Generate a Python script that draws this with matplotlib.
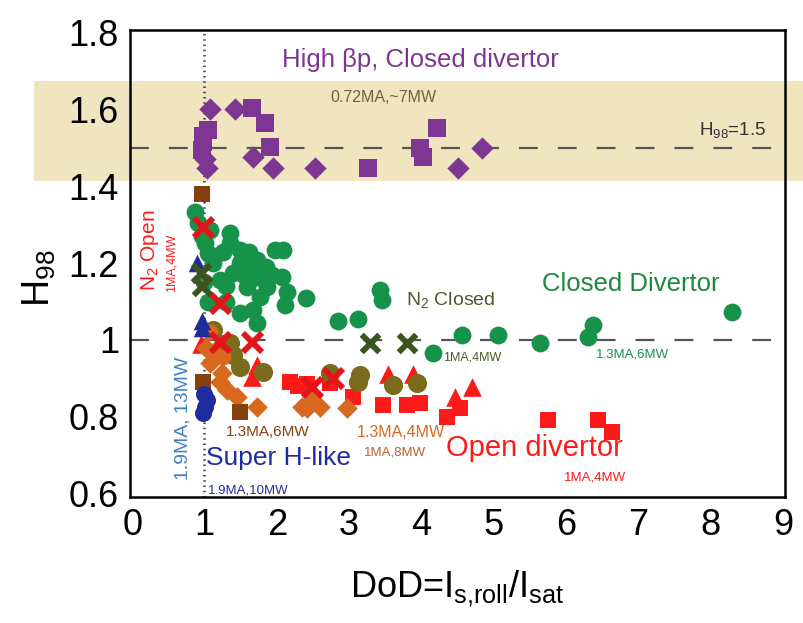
import matplotlib
matplotlib.use("Agg")
import matplotlib.pyplot as plt
from matplotlib.patches import Rectangle
from matplotlib.transforms import blended_transform_factory

plt.rcParams['font.family'] = ['Liberation Sans Narrow', 'Liberation Sans', 'DejaVu Sans']
plt.rcParams['mathtext.default'] = 'regular'

# ---- data: DoD (x) vs H98 (y) ----
# High beta_p, closed divertor (0.72MA, ~7MW)
hbp_sq_x = [1.66, 1.84, 1.05, 0.98, 0.98, 0.97, 1.91, 3.26, 4.22, 3.98, 4.02]
hbp_sq_y = [1.605, 1.565, 1.547, 1.53, 1.515, 1.495, 1.503, 1.448, 1.552, 1.50, 1.477]
hbp_dm_x = [1.08, 1.42, 1.67, 1.04, 1.95, 2.53, 4.50, 4.84, 1.01]
hbp_dm_y = [1.60, 1.60, 1.477, 1.448, 1.448, 1.448, 1.448, 1.50, 1.47]

# Closed divertor (1MA,4MW / 1.3MA,6MW)
closed_x = [0.87, 0.91, 0.97, 1.08, 1.36, 1.36, 1.01, 1.05, 1.26, 1.49, 1.98, 1.73,
            1.12, 1.49, 1.94, 1.40, 1.73, 1.22, 1.59, 1.87, 1.77, 1.67, 1.73, 1.49,
            1.30, 2.09, 2.07, 2.14, 2.12, 2.40, 2.85, 3.13, 3.43, 3.46, 4.16, 4.56,
            5.06, 5.64, 6.38, 6.31, 8.30, 1.00, 1.05, 1.60, 1.62, 1.85, 1.30, 1.55]
closed_y = [1.333, 1.305, 1.27, 1.286, 1.279, 1.253, 1.253, 1.227, 1.229, 1.235, 1.235, 1.208,
            1.20, 1.20, 1.169, 1.174, 1.164, 1.156, 1.138, 1.138, 1.112, 1.078, 1.044, 1.07,
            1.10, 1.235, 1.165, 1.125, 1.09, 1.11, 1.05, 1.055, 1.13, 1.104, 0.966, 1.013,
            1.013, 0.992, 1.039, 1.008, 1.073, 1.15, 1.10, 1.19, 1.23, 1.19, 1.14, 1.17]

# N2 seeded, closed divertor
n2c_x = [3.29, 3.80, 0.95, 0.97]
n2c_y = [0.992, 0.992, 1.175, 1.14]

# N2 seeded, open divertor
n2o_x = [0.98, 1.22, 1.22, 1.66, 2.49, 2.78]
n2o_y = [1.294, 1.096, 0.995, 0.995, 0.878, 0.90]

# Open divertor (1MA,4MW)
open_tri_x = [3.54, 3.89, 4.70, 4.47, 1.73, 1.66, 0.95]
open_tri_y = [0.91, 0.91, 0.878, 0.852, 0.935, 0.904, 0.99]
open_sq_x = [2.19, 2.30, 2.42, 2.74, 3.06, 3.47, 3.80, 3.98, 4.36, 4.54, 5.75, 6.45, 6.64]
open_sq_y = [0.891, 0.88, 0.886, 0.888, 0.852, 0.831, 0.831, 0.836, 0.80, 0.823, 0.792, 0.792, 0.76]

# 1MA,8MW
olive_x = [2.74, 3.15, 3.13, 3.61, 3.94, 1.36, 1.49, 1.81, 1.40, 1.12, 1.25]
olive_y = [0.914, 0.909, 0.89, 0.883, 0.888, 0.992, 0.93, 0.917, 0.96, 1.026, 0.99]

# 1.3MA,4MW
orange_dm_x = [2.42, 2.60, 2.97, 2.49, 1.24, 1.22, 1.31, 1.45, 1.73, 2.35, 1.08, 1.12, 1.02]
orange_dm_y = [0.823, 0.825, 0.823, 0.84, 0.914, 0.89, 0.87, 0.852, 0.826, 0.826, 0.94, 0.966, 0.98]
orange_ci_x = [1.12, 1.26, 1.08]
orange_ci_y = [0.97, 0.955, 1.02]

# 1.3MA,6MW
brown_x = [0.97, 0.98, 1.49]
brown_y = [1.38, 0.89, 0.813]

# Super H-like (1.9MA, 10-13MW)
sh_tri_x = [0.97, 0.97, 0.90]
sh_tri_y = [1.05, 1.03, 1.20]
sh_ci_x = [1.01, 0.98, 1.03, 0.99]
sh_ci_y = [0.826, 0.81, 0.843, 0.86]

x_ticks = [0, 1, 2, 3, 4, 5, 6, 7, 8, 9]
y_ticks = [0.6, 0.8, 1.0, 1.2, 1.4, 1.6, 1.8]
y_tick_labels = ['0.6', '0.8', '1', '1.2', '1.4', '1.6', '1.8']

PURPLE = '#7d3793'
GREEN = '#17924a'
DKGREEN = '#3d5420'
RED = '#ff1a1a'
XRED = '#e3151a'
OLIVE = '#7a6c1c'
ORANGE = '#d9681f'
BROWN = '#86400f'
BLUE = '#1f2c9e'
BAND = '#f1e5c0'

fig = plt.figure(figsize=(8.04, 6.23), dpi=100)
ax = fig.add_axes([130 / 804, 126 / 623, 655 / 804, 467 / 623])
ax.set_xlim(-0.03, 9.03)
ax.set_ylim(0.591, 1.807)
ax.patch.set_visible(False)

# shaded H98 band spanning past the axes
band_tr = blended_transform_factory(fig.transFigure, ax.transData)
fig.add_artist(Rectangle((34 / 804, 1.415), 1 - 34 / 804, 1.675 - 1.415,
                         transform=band_tr, facecolor=BAND, edgecolor='none', zorder=-5))

# reference lines
ax.axhline(1.5, color='#555555', lw=1.6, dashes=(8.5, 9), zorder=1)
ax.axhline(1.0, color='#555555', lw=1.6, dashes=(8.5, 9), zorder=1)
ax.axvline(1.0, color='#3a3a66', lw=1.8, ls=(0, (0.6, 1.5)), zorder=1)

ax.scatter(closed_x, closed_y, s=165, marker='o', color=GREEN, zorder=3, lw=0)
ax.scatter(hbp_sq_x, hbp_sq_y, s=160, marker='s', color=PURPLE, zorder=3, lw=0)
ax.scatter(hbp_dm_x, hbp_dm_y, s=130, marker='D', color=PURPLE, zorder=3, lw=0)
ax.scatter(open_sq_x, open_sq_y, s=135, marker='s', color=RED, zorder=3, lw=0)
ax.scatter(open_tri_x, open_tri_y, s=180, marker='^', color=RED, zorder=3, lw=0)
ax.scatter(olive_x, olive_y, s=190, marker='o', color=OLIVE, zorder=4, lw=0)
ax.scatter(orange_dm_x, orange_dm_y, s=110, marker='D', color=ORANGE, zorder=4, lw=0)
ax.scatter(orange_ci_x, orange_ci_y, s=130, marker='o', color=ORANGE, zorder=4, lw=0)
ax.scatter(brown_x, brown_y, s=135, marker='s', color=BROWN, zorder=4, lw=0)
ax.scatter(sh_tri_x, sh_tri_y, s=160, marker='^', color=BLUE, zorder=5, lw=0)
ax.scatter(sh_ci_x, sh_ci_y, s=150, marker='o', color=BLUE, zorder=5, lw=0)
ax.scatter(n2o_x, n2o_y, s=190, marker='x', color=XRED, zorder=6, linewidths=4.2)
ax.scatter(n2c_x, n2c_y, s=160, marker='x', color=DKGREEN, zorder=6, linewidths=4.2)

# annotations
ax.text(3.98, 1.729, 'High βp, Closed divertor', color=PURPLE, fontsize=18.5, ha='center', va='center')
ax.text(3.47, 1.63, '0.72MA,~7MW', color='#6e6238', fontsize=11.5, ha='center', va='center')
ax.text(8.30, 1.547, 'H$_{98}$=1.5', color='#333333', fontsize=13.5, ha='center', va='center')
ax.text(0.25, 1.234, 'N$_2$ Open', color=RED, fontsize=15, rotation=90, ha='center', va='center')
ax.text(0.55, 1.20, '1MA,4MW', color=RED, fontsize=9, rotation=90, ha='center', va='center')
ax.text(0.70, 0.797, '1.9MA, 13MW', color='#3f80c4', fontsize=14, rotation=90, ha='center', va='center')
ax.text(2.02, 0.693, 'Super H-like', color=BLUE, fontsize=19, ha='center', va='center')
ax.text(1.60, 0.609, '1.9MA,10MW', color=BLUE, fontsize=9.5, ha='center', va='center')
ax.text(1.88, 0.76, '1.3MA,6MW', color=BROWN, fontsize=11, ha='center', va='center')
ax.text(4.40, 1.104, 'N$_2$ Closed', color='#4a5a2a', fontsize=14, ha='center', va='center')
ax.text(6.89, 1.146, 'Closed Divertor', color='#1a8a3c', fontsize=18.5, ha='center', va='center')
ax.text(4.70, 0.953, '1MA,4MW', color='#4a5a2a', fontsize=9, ha='center', va='center', zorder=8)
ax.text(6.92, 0.961, '1.3MA,6MW', color=GREEN, fontsize=9.5, ha='center', va='center')
ax.text(3.72, 0.76, '1.3MA,4MW', color=ORANGE, fontsize=11.5, ha='center', va='center')
ax.text(3.64, 0.708, '1MA,8MW', color='#c0602a', fontsize=9.5, ha='center', va='center')
ax.text(5.56, 0.719, 'Open divertor', color=RED, fontsize=21, ha='center', va='center')
ax.text(6.40, 0.641, '1MA,4MW', color=RED, fontsize=9.5, ha='center', va='center')

# axes styling
ax.set_xticks(x_ticks)
ax.set_yticks(y_ticks)
ax.set_yticklabels(y_tick_labels)
ax.tick_params(axis='both', length=0, labelsize=26, pad=8)
for sp in ax.spines.values():
    sp.set_linewidth(1.8)
    sp.set_zorder(10)

ax.set_xlabel('DoD=I$_{s{,}roll}$/I$_{sat}$', fontsize=26, labelpad=18)
ax.set_ylabel('H$_{98}$', fontsize=27)
ax.yaxis.set_label_coords((58 - 130) / 655, (497 - 278) / 467)

fig.savefig('out.png', dpi=100)
